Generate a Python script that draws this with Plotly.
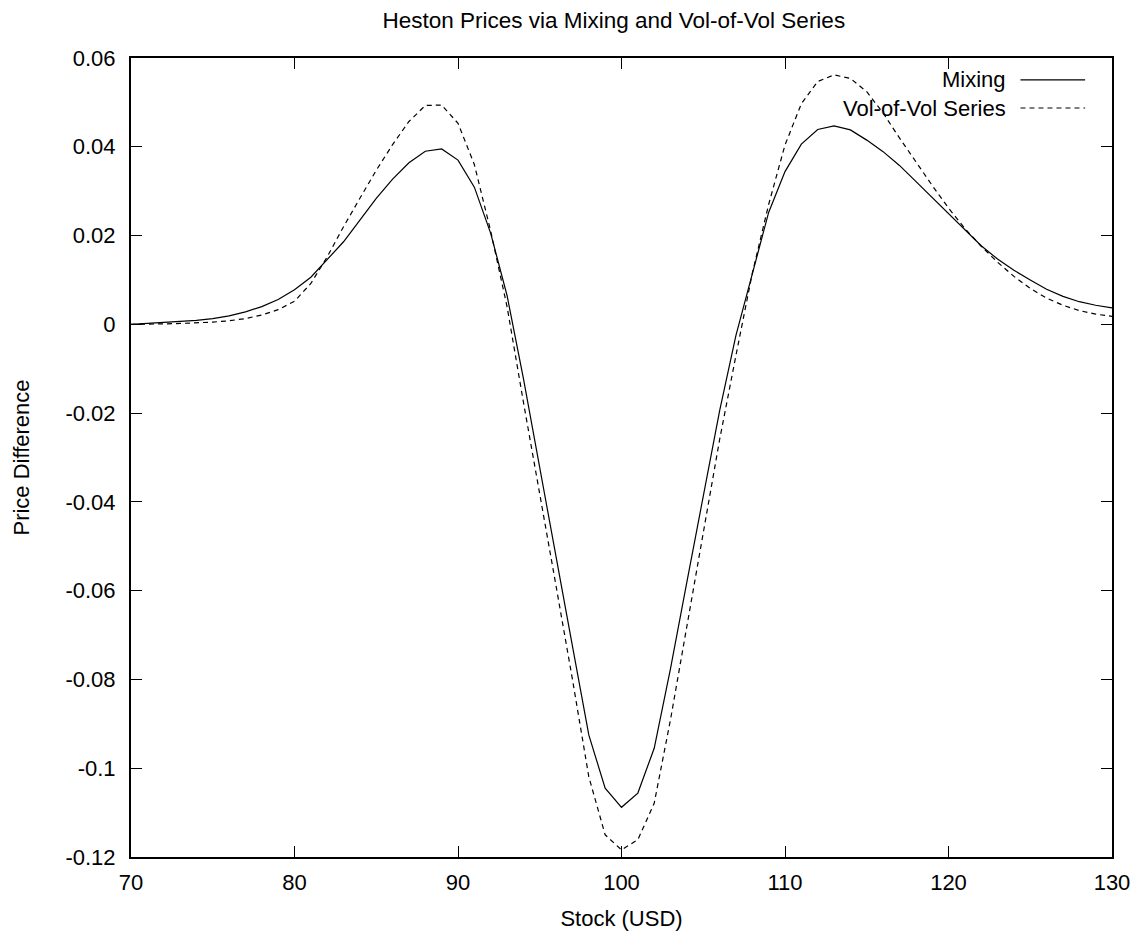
import plotly.graph_objects as go

stock = list(range(70, 131))

mixing = [
    0.0000, 0.0002, 0.0004, 0.0006, 0.0009, 0.0013, 0.0019, 0.0028, 0.0040, 0.0056,
    0.0078, 0.0106, 0.0145, 0.0186, 0.0235, 0.0284, 0.0327, 0.0364, 0.0390, 0.0395,
    0.0370, 0.0309, 0.0205, 0.0065, -0.0122, -0.0320, -0.0520, -0.0725, -0.0925, -0.1045,
    -0.1088, -0.1056, -0.0955, -0.0775, -0.0580, -0.0385, -0.0195, -0.0025, 0.0115, 0.0252,
    0.0344, 0.0406, 0.0439, 0.0447, 0.0438, 0.0415, 0.0389, 0.0358, 0.0322, 0.0286,
    0.0249, 0.0212, 0.0177, 0.0147, 0.0122, 0.0100, 0.0079, 0.0063, 0.0051, 0.0043,
    0.0037,
]

vol_of_vol = [
    0.0000, 0.0000, 0.0001, 0.0002, 0.0003, 0.0005, 0.0008, 0.0013, 0.0021, 0.0033,
    0.0052, 0.0092, 0.0152, 0.0220, 0.0284, 0.0347, 0.0405, 0.0457, 0.0493, 0.0494,
    0.0453, 0.0360, 0.0210, 0.0040, -0.0175, -0.0380, -0.0590, -0.0800, -0.1019, -0.1150,
    -0.1184, -0.1161, -0.1079, -0.0890, -0.0680, -0.0470, -0.0260, -0.0070, 0.0115, 0.0270,
    0.0404, 0.0497, 0.0547, 0.0562, 0.0554, 0.0524, 0.0476, 0.0420, 0.0366, 0.0313,
    0.0262, 0.0216, 0.0176, 0.0140, 0.0108, 0.0081, 0.0059, 0.0043, 0.0031, 0.0023,
    0.0018,
]

x_ticks = [70, 80, 90, 100, 110, 120, 130]
y_ticks = [-0.12, -0.1, -0.08, -0.06, -0.04, -0.02, 0, 0.02, 0.04, 0.06]
y_tick_text = ["-0.12", "-0.1", "-0.08", "-0.06", "-0.04", "-0.02", "0", "0.02", "0.04", "0.06"]

series_names = ["Mixing", "Vol-of-Vol Series"]

FONT = "Liberation Sans, Arial, Helvetica, sans-serif"
FS = 22

fig = go.Figure()
fig.add_trace(go.Scatter(x=stock, y=mixing, mode="lines", name=series_names[0],
                         line=dict(color="black", width=1.2), showlegend=False))
fig.add_trace(go.Scatter(x=stock, y=vol_of_vol, mode="lines", name=series_names[1],
                         line=dict(color="black", width=1.2, dash="5px,4px"), showlegend=False))

# gnuplot-style key: text right-aligned, sample line to its right
key_y = [0.9725, 0.9374]
dashes = ["solid", "5px,4px"]
for name, ky, d in zip(series_names, key_y, dashes):
    fig.add_annotation(x=0.8935, y=ky, xref="paper", yref="paper", text=name,
                       showarrow=False, xanchor="right", yanchor="middle",
                       font=dict(family=FONT, size=FS, color="black"))
    fig.add_shape(type="line", xref="paper", yref="paper", x0=0.9067, x1=0.9726,
                  y0=ky, y1=ky, line=dict(color="black", width=1.2, dash=d))

fig.update_layout(
    width=1143, height=940,
    margin=dict(l=118, r=39, t=50, b=91),
    paper_bgcolor="white", plot_bgcolor="white",
    font=dict(family=FONT, size=FS, color="black"),
    title=dict(text="Heston Prices via Mixing and Vol-of-Vol Series", x=0.530, xanchor="center",
               y=0.987, yanchor="middle", font=dict(family=FONT, size=22.5, color="black")),
    xaxis=dict(range=[70, 130], tickvals=x_ticks, ticks="inside", ticklen=11, tickwidth=1,
               tickcolor="black", showline=True, linecolor="black", linewidth=2,
               mirror="ticks", showgrid=False, zeroline=False, ticklabelstandoff=5,
               title=dict(text="Stock (USD)", standoff=16, font=dict(family=FONT, size=FS))),
    yaxis=dict(range=[-0.12, 0.06], tickvals=y_ticks, ticktext=y_tick_text, ticks="inside",
               ticklen=11, tickwidth=1, tickcolor="black", showline=True, linecolor="black",
               linewidth=2, mirror="ticks", showgrid=False, zeroline=False, ticklabelstandoff=9,
               title=dict(text="Price Difference", standoff=30, font=dict(family=FONT, size=FS))),
)

fig.write_html("out.html")
